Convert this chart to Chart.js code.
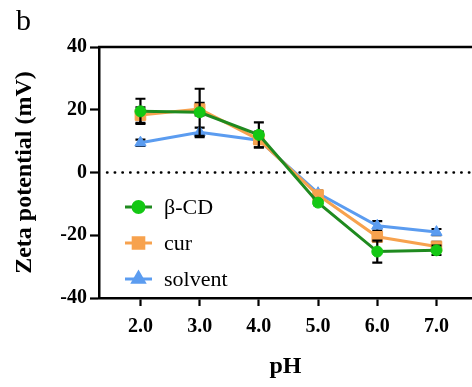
<!DOCTYPE html>
<html>
<head>
<meta charset="utf-8">
<script src="https://cdn.jsdelivr.net/npm/chart.js@4"></script>
<style>
  body { margin: 0; background: #fff; }
  #wrap { position: relative; width: 472px; height: 387px; }
  #panel { position: absolute; left: 16px; top: 3px; font: 30px 'Liberation Serif', serif; color: #000; }
</style>
</head>
<body>
<div id="wrap">
  <canvas id="chart" width="472" height="387"></canvas>
  <div id="panel">b</div>
</div>
<script>
'use strict'

// pH values on the x axis
const phValues = [2, 3, 4, 5, 6, 7]
const xTicks = [2, 3, 4, 5, 6, 7]
const yTicks = [-40, -20, 0, 20, 40]

// zeta potential (mV), means and error bars
const cdMeans = [19.5, 19.2, 12.0, -9.6, -25.2, -24.8]
const cdErrors = [4.0, 7.5, 4.0, 0.8, 3.5, 1.5]
const curMeans = [18.3, 20.2, 10.5, -7.2, -20.5, -23.6]
const curErrors = [2.5, 2.0, 2.5, 0.8, 1.5, 1.5]
const solMeans = [9.5, 12.8, 10.3, -6.6, -17.0, -19.0]
const solErrors = [1.0, 1.5, 1.0, 0.8, 1.5, 1.0]

const serif = "'Liberation Serif', 'Times New Roman', serif"

const toPoints = (means) => phValues.map(function (x, i) {
  return { x: x, y: means[i] }
})

// error bars go under each dataset's own markers
const errorBars = {
  id: 'errorBars',
  beforeDatasetDraw (chart, args) {
    const ds = chart.data.datasets[args.index]
    const y = chart.scales.y
    const ctx = chart.ctx
    ctx.save()
    ctx.strokeStyle = '#000'
    ctx.lineWidth = 2.2
    args.meta.data.forEach(function (pt, i) {
      const v = ds.data[i].y
      const e = ds.errors[i]
      const top = y.getPixelForValue(v + e)
      const bot = y.getPixelForValue(v - e)
      ctx.beginPath()
      ctx.moveTo(pt.x, top)
      ctx.lineTo(pt.x, bot)
      ctx.moveTo(pt.x - 5, top)
      ctx.lineTo(pt.x + 5, top)
      ctx.moveTo(pt.x - 5, bot)
      ctx.lineTo(pt.x + 5, bot)
      ctx.stroke()
    })
    ctx.restore()
  }
}

// dotted zero line + top frame line
const frame = {
  id: 'frame',
  beforeDatasetsDraw (chart) {
    const ctx = chart.ctx
    const area = chart.chartArea
    const y0 = chart.scales.y.getPixelForValue(0)
    ctx.save()
    ctx.strokeStyle = '#000'
    ctx.lineWidth = 2.4
    ctx.lineCap = 'round'
    ctx.setLineDash([0.5, 7.2])
    ctx.beginPath()
    ctx.moveTo(area.left + 8, y0)
    ctx.lineTo(area.right, y0)
    ctx.stroke()
    ctx.restore()
  },
  afterDraw (chart) {
    const ctx = chart.ctx
    const area = chart.chartArea
    ctx.save()
    ctx.strokeStyle = '#000'
    ctx.lineWidth = 2.5
    ctx.beginPath()
    ctx.moveTo(area.left - 1, area.top)
    ctx.lineTo(area.right, area.top)
    ctx.stroke()
    ctx.restore()
  }
}

// legend sits inside the plot, lower left
const innerLegend = {
  id: 'innerLegend',
  afterDraw (chart) {
    const ctx = chart.ctx
    const area = chart.chartArea
    ctx.save()
    chart.data.datasets.forEach(function (ds, i) {
      const y = area.top + 160 + i * 36
      const x0 = area.left + 26
      ctx.strokeStyle = ds.borderColor
      ctx.lineWidth = 3
      ctx.beginPath()
      ctx.moveTo(x0, y)
      ctx.lineTo(x0 + 27, y)
      ctx.stroke()
      ctx.fillStyle = ds.pointBackgroundColor
      ctx.strokeStyle = ds.pointBorderColor
      Chart.helpers.drawPoint(ctx, {
        pointStyle: ds.pointStyle,
        radius: ds.pointRadius,
        rotation: 0,
        borderWidth: 1
      }, x0 + 13.5, y)
      ctx.fillStyle = '#000'
      ctx.font = '22px ' + serif
      ctx.textBaseline = 'middle'
      ctx.fillText(ds.label, area.left + 65, y + 1)
    })
    ctx.restore()
  }
}

const chart = new Chart(document.getElementById('chart'), {
  type: 'line',
  data: {
    datasets: [
      {
        label: 'β-CD',
        data: toPoints(cdMeans),
        errors: cdErrors,
        borderColor: '#1f8a1f',
        borderWidth: 3,
        pointStyle: 'circle',
        pointRadius: 5.5,
        pointBackgroundColor: '#14c814',
        pointBorderColor: '#14c814',
        pointBorderWidth: 1
      },
      {
        label: 'cur',
        data: toPoints(curMeans),
        errors: curErrors,
        borderColor: '#f7a24e',
        borderWidth: 3,
        pointStyle: 'rect',
        pointRadius: 7.5,
        pointBackgroundColor: '#f7a24e',
        pointBorderColor: '#f7a24e',
        pointBorderWidth: 1
      },
      {
        label: 'solvent',
        data: toPoints(solMeans),
        errors: solErrors,
        borderColor: '#5b9cf0',
        borderWidth: 3,
        pointStyle: 'triangle',
        pointRadius: 6.5,
        pointBackgroundColor: '#5b9cf0',
        pointBorderColor: '#5b9cf0',
        pointBorderWidth: 1
      }
    ]
  },
  options: {
    responsive: false,
    animation: false,
    layout: { autoPadding: false, padding: { top: 47, right: 0, bottom: 0, left: 0 } },
    plugins: {
      legend: { display: false },
      tooltip: { enabled: false }
    },
    scales: {
      x: {
        type: 'linear',
        min: 1.3,
        max: 7.6,
        afterBuildTicks (scale) {
          scale.ticks = xTicks.map(function (v) { return { value: v } })
        },
        afterFit (scale) {
          scale.height = 89
          scale.paddingLeft = 0
          scale.paddingRight = 0
        },
        border: { color: '#000', width: 2.5 },
        grid: { drawOnChartArea: false, tickLength: 8, tickWidth: 2.2, tickColor: '#000' },
        ticks: {
          color: '#000',
          padding: 9,
          font: { family: serif, size: 20, weight: 'bold' },
          callback: function (v) { return v.toFixed(1) }
        },
        title: {
          display: true,
          text: 'pH',
          color: '#000',
          padding: { top: 0, bottom: 6 },
          font: { family: serif, size: 24, weight: 'bold' }
        }
      },
      y: {
        min: -40,
        max: 40,
        afterBuildTicks (scale) {
          scale.ticks = yTicks.map(function (v) { return { value: v } })
        },
        afterFit (scale) { scale.width = 99 },
        border: { color: '#000', width: 2.5 },
        grid: { drawOnChartArea: false, tickLength: 9, tickWidth: 2.2, tickColor: '#000' },
        ticks: {
          color: '#000',
          padding: 3,
          font: { family: serif, size: 20, weight: 'bold' }
        },
        title: {
          display: true,
          text: 'Zeta potential (mV)',
          color: '#000',
          padding: { top: 10, bottom: 0 },
          font: { family: serif, size: 24, weight: 'bold' }
        }
      }
    }
  },
  plugins: [errorBars, frame, innerLegend]
})
</script>
</body>
</html>
